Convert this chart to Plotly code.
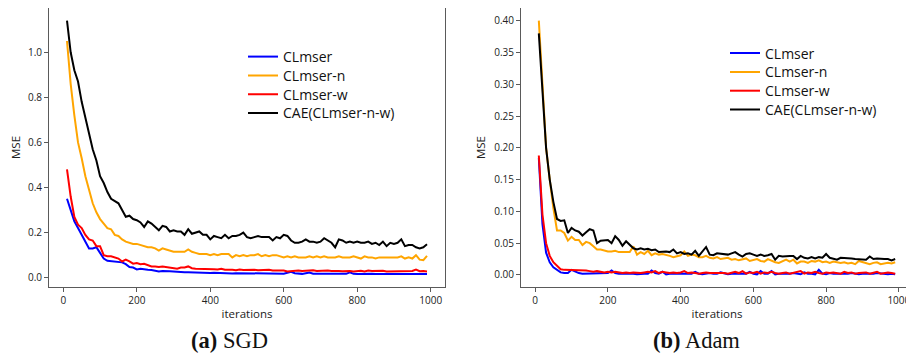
import plotly.graph_objects as go

iterations = list(range(10, 1000, 10))
series_names = ["CLmser", "CLmser-n", "CLmser-w", "CAE(CLmser-n-w)"]
x_ticks = [0, 200, 400, 600, 800, 1000]
sgd_y_ticks = [0.0, 0.2, 0.4, 0.6, 0.8, 1.0]
adam_y_ticks = [0.0, 0.05, 0.10, 0.15, 0.20, 0.25, 0.30, 0.35, 0.40]

sgd_clmser = [
    0.35, 0.30, 0.25, 0.22, 0.19, 0.16, 0.13, 0.13, 0.135, 0.11,
    0.085, 0.075, 0.073, 0.07, 0.07, 0.068, 0.06, 0.047, 0.045, 0.037,
    0.04, 0.036, 0.035, 0.034, 0.03, 0.028, 0.03, 0.028, 0.029, 0.028,
    0.026, 0.025, 0.024, 0.024, 0.023, 0.022, 0.022, 0.022, 0.021, 0.021,
    0.022, 0.021, 0.021, 0.02, 0.02, 0.019, 0.02, 0.02, 0.019, 0.02,
    0.02, 0.019, 0.02, 0.019, 0.019, 0.018, 0.019, 0.018, 0.019, 0.018,
    0.022, 0.026, 0.02, 0.018, 0.017, 0.02, 0.023, 0.018, 0.017, 0.017,
    0.018, 0.017, 0.018, 0.017, 0.018, 0.017, 0.017, 0.024, 0.017, 0.016,
    0.017, 0.017, 0.016, 0.017, 0.016, 0.016, 0.017, 0.016, 0.016, 0.017,
    0.016, 0.016, 0.016, 0.015, 0.016, 0.016, 0.015, 0.016, 0.016,
]
sgd_clmser_n = [
    1.05, 0.86, 0.72, 0.60, 0.53, 0.45, 0.39, 0.33, 0.29, 0.26,
    0.24, 0.22, 0.215, 0.19, 0.185, 0.17, 0.16, 0.155, 0.15, 0.15,
    0.145, 0.14, 0.135, 0.135, 0.13, 0.12, 0.13, 0.125, 0.12, 0.115,
    0.115, 0.115, 0.115, 0.125, 0.115, 0.11, 0.105, 0.105, 0.105, 0.10,
    0.105, 0.10, 0.105, 0.105, 0.105, 0.09, 0.10, 0.095, 0.10, 0.095,
    0.10, 0.10, 0.105, 0.095, 0.10, 0.095, 0.10, 0.10, 0.095, 0.09,
    0.095, 0.09, 0.095, 0.09, 0.09, 0.09, 0.095, 0.09, 0.095, 0.09,
    0.095, 0.09, 0.09, 0.09, 0.095, 0.09, 0.09, 0.09, 0.095, 0.09,
    0.085, 0.095, 0.09, 0.09, 0.085, 0.09, 0.09, 0.09, 0.09, 0.09,
    0.09, 0.095, 0.085, 0.09, 0.085, 0.10, 0.08, 0.078, 0.097,
]
sgd_clmser_w = [
    0.48, 0.36, 0.27, 0.235, 0.22, 0.19, 0.17, 0.165, 0.14, 0.14,
    0.10, 0.095, 0.095, 0.09, 0.085, 0.072, 0.08, 0.072, 0.062, 0.065,
    0.06, 0.062, 0.055, 0.05, 0.05, 0.048, 0.05, 0.048, 0.047, 0.045,
    0.04, 0.045, 0.045, 0.05, 0.042, 0.04, 0.04, 0.04, 0.038, 0.037,
    0.037, 0.036, 0.04, 0.035, 0.036, 0.035, 0.033, 0.036, 0.034, 0.035,
    0.033, 0.035, 0.033, 0.034, 0.033, 0.035, 0.032, 0.033, 0.034, 0.032,
    0.028, 0.03, 0.03, 0.032, 0.03, 0.031, 0.03, 0.033, 0.03, 0.031,
    0.03, 0.032, 0.03, 0.031, 0.03, 0.029, 0.031, 0.03, 0.028, 0.03,
    0.031, 0.028, 0.032, 0.03, 0.031, 0.029, 0.031, 0.028, 0.028, 0.029,
    0.027, 0.028, 0.029, 0.028, 0.03, 0.036, 0.029, 0.03, 0.028,
]
sgd_cae = [
    1.14, 1.00, 0.92, 0.87, 0.78, 0.71, 0.65, 0.57, 0.52, 0.45,
    0.42, 0.38, 0.35, 0.34, 0.33, 0.30, 0.27, 0.275, 0.26, 0.255,
    0.245, 0.225, 0.25, 0.24, 0.225, 0.21, 0.23, 0.225, 0.205, 0.21,
    0.205, 0.205, 0.19, 0.215, 0.195, 0.20, 0.205, 0.19, 0.19, 0.17,
    0.185, 0.18, 0.175, 0.19, 0.175, 0.185, 0.185, 0.19, 0.20, 0.18,
    0.175, 0.18, 0.185, 0.18, 0.18, 0.18, 0.165, 0.18, 0.175, 0.19,
    0.185, 0.165, 0.155, 0.155, 0.16, 0.17, 0.16, 0.16, 0.155, 0.16,
    0.175, 0.165, 0.155, 0.135, 0.17, 0.165, 0.155, 0.16, 0.155, 0.16,
    0.155, 0.155, 0.16, 0.15, 0.155, 0.145, 0.16, 0.14, 0.155, 0.15,
    0.155, 0.17, 0.14, 0.145, 0.145, 0.135, 0.13, 0.135, 0.148,
]

adam_clmser = [
    0.184, 0.08, 0.035, 0.02, 0.012, 0.008, 0.004, 0.003, 0.003, 0.008,
    0.005, 0.003, 0.002, 0.002, 0.002, 0.002, 0.002, 0.002, 0.003, 0.003,
    0.007, 0.003, 0.002, 0.002, 0.003, 0.002, 0.002, 0.001, 0.002, 0.002,
    0.002, 0.007, 0.003, 0.002, 0.005, 0.001, 0.002, 0.002, 0.003, 0.002,
    0.003, 0.002, 0.002, 0.005, 0.002, 0.001, 0.002, 0.003, 0.002, 0.002,
    0.004, 0.002, 0.001, 0.002, 0.002, 0.003, 0.002, 0.002, 0.005, 0.002,
    0.001, 0.006, 0.002, 0.002, 0.006, 0.001, 0.002, 0.002, 0.001, 0.002,
    0.003, 0.002, 0.001, 0.004, 0.002, 0.002, 0.001, 0.008, 0.002, 0.001,
    0.003, 0.002, 0.002, 0.001, 0.002, 0.002, 0.003, 0.002, 0.001, 0.002,
    0.002, 0.001, 0.002, 0.003, 0.002, 0.002, 0.001, 0.002, 0.001,
]
adam_clmser_n = [
    0.40, 0.29, 0.20, 0.15, 0.105, 0.07, 0.07, 0.066, 0.054, 0.06,
    0.055, 0.055, 0.047, 0.052, 0.05, 0.045, 0.04, 0.04, 0.038, 0.037,
    0.037, 0.038, 0.036, 0.036, 0.037, 0.036, 0.045, 0.032, 0.036, 0.033,
    0.038, 0.031, 0.034, 0.032, 0.033, 0.032, 0.03, 0.028, 0.029, 0.031,
    0.037, 0.03, 0.032, 0.031, 0.028, 0.028, 0.03, 0.027, 0.026, 0.028,
    0.025, 0.026, 0.027, 0.024, 0.025, 0.023, 0.025, 0.026, 0.022, 0.024,
    0.025, 0.022, 0.021, 0.025, 0.022, 0.02, 0.019, 0.021, 0.024, 0.021,
    0.024, 0.018, 0.021, 0.021, 0.019, 0.022, 0.021, 0.023, 0.02, 0.021,
    0.019, 0.021, 0.02, 0.019, 0.02, 0.018, 0.019, 0.017, 0.022, 0.02,
    0.018, 0.017, 0.019, 0.02, 0.017, 0.018, 0.019, 0.018, 0.02,
]
adam_clmser_w = [
    0.188, 0.095, 0.05, 0.03, 0.02, 0.014, 0.009, 0.008, 0.008, 0.008,
    0.007, 0.008, 0.008, 0.007, 0.006, 0.005, 0.006, 0.005, 0.004, 0.005,
    0.004, 0.005, 0.004, 0.003, 0.004, 0.003, 0.004, 0.003, 0.003, 0.004,
    0.005, 0.004, 0.006, 0.003, 0.005, 0.004, 0.003, 0.004, 0.003, 0.004,
    0.006, 0.003, 0.004, 0.003, 0.002, 0.003, 0.004, 0.003, 0.003, 0.004,
    0.003, 0.003, 0.002, 0.004, 0.005, 0.003, 0.006, 0.002, 0.004, 0.003,
    0.005, 0.002, 0.004, 0.003, 0.005, 0.003, 0.002, 0.003, 0.004, 0.002,
    0.003, 0.004, 0.006, 0.002, 0.004, 0.003, 0.005, 0.003, 0.002, 0.004,
    0.003, 0.004, 0.003, 0.002, 0.005, 0.003, 0.004, 0.002, 0.003, 0.003,
    0.004, 0.002, 0.003, 0.005, 0.002, 0.003, 0.004, 0.003, 0.002,
]
adam_cae = [
    0.38, 0.28, 0.20, 0.15, 0.115, 0.088, 0.085, 0.086, 0.066, 0.074,
    0.07, 0.068, 0.062, 0.067, 0.072, 0.07, 0.05, 0.054, 0.055, 0.055,
    0.05, 0.061, 0.055, 0.046, 0.053, 0.048, 0.042, 0.04, 0.042, 0.04,
    0.041, 0.039, 0.04, 0.036, 0.037, 0.037, 0.036, 0.04, 0.034, 0.036,
    0.033, 0.034, 0.032, 0.038, 0.03, 0.038, 0.044, 0.032, 0.031, 0.034,
    0.033, 0.032, 0.032, 0.034, 0.036, 0.032, 0.029, 0.033, 0.034, 0.032,
    0.03, 0.032, 0.03, 0.031, 0.033, 0.024, 0.03, 0.029, 0.03, 0.03,
    0.03, 0.025, 0.03, 0.027, 0.026, 0.028, 0.026, 0.028, 0.027, 0.033,
    0.027, 0.026, 0.024, 0.027, 0.027, 0.026, 0.026, 0.025, 0.025, 0.024,
    0.024, 0.029, 0.025, 0.026, 0.025, 0.025, 0.025, 0.023, 0.025,
]

colors = ["#0000ff", "#ffa500", "#ff0000", "#000000"]

sgd_series = [sgd_clmser, sgd_clmser_n, sgd_clmser_w, sgd_cae]
adam_series = [adam_clmser, adam_clmser_n, adam_clmser_w, adam_cae]
for s in sgd_series + adam_series:
    assert len(s) == len(iterations), len(s)

# page has an 8px body margin: build the figure 8px smaller and shift layout by 8px
OFF = 8
W, H = 914 - OFF, 356 - OFF


def px(xp):
    return min(1.0, max(0.0, (xp - OFF) / W))


def py(yp):
    return min(1.0, max(0.0, 1 - (yp - OFF) / H))


FONT = "Open Sans"
fig = go.Figure()

legend_names = ["legend"] + [f"legend{i}" for i in range(2, 9)]

for i, (name, ys, c) in enumerate(zip(series_names, sgd_series, colors)):
    fig.add_trace(go.Scatter(x=iterations, y=ys, mode="lines", name=name, showlegend=True,
                             line=dict(color=c, width=2),
                             xaxis="x", yaxis="y", legend=legend_names[i]))
for i, (name, ys, c) in enumerate(zip(series_names, adam_series, colors)):
    fig.add_trace(go.Scatter(x=iterations, y=ys, mode="lines", name=name, showlegend=True,
                             line=dict(color=c, width=2),
                             xaxis="x2", yaxis="y2", legend=legend_names[4 + i]))


def pad_range(vals, frac=0.05):
    lo, hi = min(vals), max(vals)
    d = (hi - lo) * frac
    return [lo - d, hi + d]


xr = pad_range(iterations)
sgd_yr = pad_range([v for s in sgd_series for v in s])
adam_yr = pad_range([v for s in adam_series for v in s])

axis_common = dict(showgrid=False, zeroline=False, showline=True, mirror=True,
                   linecolor="#5a5a5a", linewidth=1, ticks="outside", ticklen=4,
                   tickcolor="#5a5a5a", tickfont=dict(family=FONT, size=10, color="#222"),
                   title_font=dict(family=FONT, size=11.5, color="#222"))

legend_common = dict(xanchor="left", yanchor="middle", bgcolor="rgba(0,0,0,0)",
                     font=dict(family=FONT, size=14, color="#111"),
                     itemwidth=30, tracegroupgap=0)

# legend row centres (pixels) for the two panels
sgd_rows = [57, 75.8, 94.6, 113.4]
adam_rows = [53.5, 72.3, 91.1, 109.9]
legends = {}
for i, yrow in enumerate(sgd_rows):
    legends[legend_names[i]] = dict(x=px(243), y=py(yrow), **legend_common)
for i, yrow in enumerate(adam_rows):
    legends[legend_names[4 + i]] = dict(x=px(725), y=py(yrow), **legend_common)

fig.update_layout(
    width=W, height=H,
    showlegend=True,
    margin=dict(l=0, r=0, t=0, b=0),
    paper_bgcolor="white", plot_bgcolor="white",
    xaxis=dict(domain=[px(49), px(445)], range=xr, tickvals=x_ticks,
               anchor="y", title=dict(text="iterations", standoff=3), **axis_common),
    yaxis=dict(domain=[py(287), py(8)], range=sgd_yr, tickvals=sgd_y_ticks,
               tickformat=".1f", anchor="x", title=dict(text="MSE", standoff=6), **axis_common),
    xaxis2=dict(domain=[px(521), px(913)], range=xr, tickvals=x_ticks,
                anchor="y2", title=dict(text="iterations", standoff=3), **axis_common),
    yaxis2=dict(domain=[py(287), py(6)], range=adam_yr, tickvals=adam_y_ticks,
                tickformat=".2f", anchor="x2", title=dict(text="MSE", standoff=6), **axis_common),
    annotations=[
        dict(text="<b>(a)</b> SGD", x=px(229), y=py(340), xref="paper", yref="paper",
             xanchor="center", yanchor="middle", showarrow=False,
             font=dict(family="Liberation Serif", size=22.5, color="#111")),
        dict(text="<b>(b)</b> Adam", x=px(696), y=py(340), xref="paper", yref="paper",
             xanchor="center", yanchor="middle", showarrow=False,
             font=dict(family="Liberation Serif", size=22.5, color="#111")),
    ],
    **legends,
)

fig.write_html("out.html")
